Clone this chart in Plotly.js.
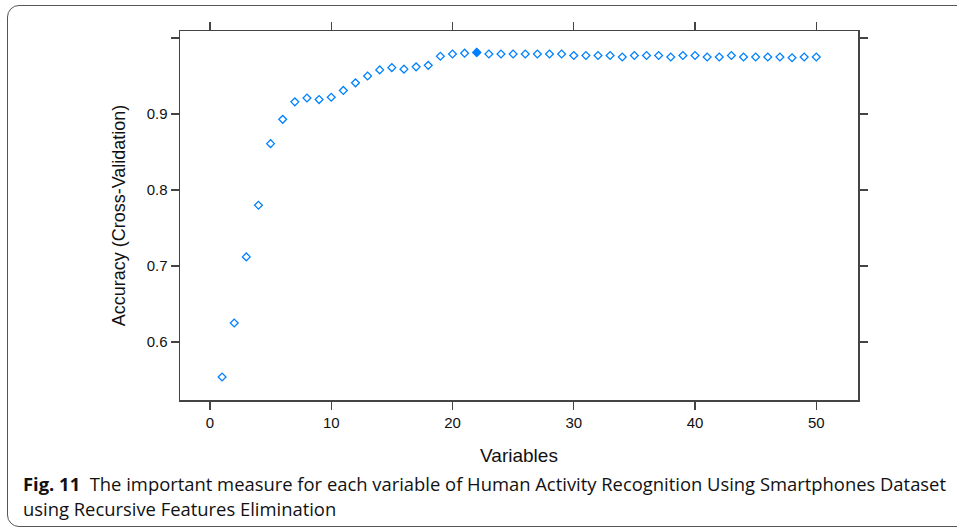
<!DOCTYPE html>
<html>
<head>
<meta charset="utf-8">
<script src="https://cdn.plot.ly/plotly-3.0.1.min.js"></script>
<style>
  html, body { margin: 0; padding: 0; background: #fff; }
  #wrap { position: relative; width: 957px; height: 531px; overflow: hidden; }
  #chart { position: absolute; left: 0; top: 0; width: 957px; height: 531px; }
  #frame { position: absolute; left: 7px; top: 5px; width: 980px; height: 522px;
           border: 1.3px solid #555; border-radius: 12px; pointer-events: none; box-sizing: border-box; }
</style>
</head>
<body>
<div id="wrap">
  <div id="chart"></div>
  <div id="frame"></div>
</div>
<script>
// Data
const variables = [1,2,3,4,5,6,7,8,9,10,11,12,13,14,15,16,17,18,19,20,21,22,23,24,25,26,27,28,29,30,31,32,33,34,35,36,37,38,39,40,41,42,43,44,45,46,47,48,49,50];
const accuracy = [0.554,0.625,0.712,0.780,0.861,0.893,0.916,0.921,0.919,0.922,0.931,0.941,0.950,0.958,0.961,0.959,0.962,0.964,0.976,0.979,0.980,0.981,0.979,0.979,0.979,0.979,0.979,0.979,0.979,0.977,0.977,0.977,0.977,0.975,0.977,0.977,0.977,0.975,0.977,0.977,0.975,0.975,0.977,0.975,0.975,0.975,0.975,0.974,0.975,0.975];
const bestVariables = [22];
const bestAccuracy = [0.981];
const yTickVals = [0.6,0.7,0.8,0.9,1.0];
const yTickText = ['0.6','0.7','0.8','0.9',''];
const xTickVals = [0,10,20,30,40,50];
const xTitle = 'Variables';
const yTitle = 'Accuracy (Cross-Validation)';
const captionBold = 'Fig. 11';
const captionLine1 = 'The important measure for each variable of Human Activity Recognition Using Smartphones Dataset';
const captionLine2 = 'using Recursive Features Elimination';

const markerColor = '#0080ff';
const traces = [
  { x: variables, y: accuracy, type: 'scatter', mode: 'markers',
    marker: { symbol: 'diamond-open', size: 6, color: markerColor, line: { width: 1.3, color: markerColor } },
    hoverinfo: 'x+y' },
  { x: bestVariables, y: bestAccuracy, type: 'scatter', mode: 'markers',
    marker: { symbol: 'diamond', size: 6, color: markerColor, line: { width: 1.2, color: markerColor } },
    hoverinfo: 'x+y' }
];

const axisFont = { family: 'Liberation Sans, Arial, sans-serif', size: 15, color: '#111' };
const capFont = { family: 'Open Sans, sans-serif', size: 18.4, color: '#111' };
const layout = {
  width: 957, height: 531,
  margin: { l: 180, r: 99, t: 31, b: 131 },
  paper_bgcolor: '#fff', plot_bgcolor: '#fff',
  showlegend: false,
  xaxis: {
    range: [-2.47, 53.44], tickvals: xTickVals, ticks: 'outside', ticklen: 8, tickwidth: 1.3, tickcolor: '#444',
    showline: true, linecolor: '#444', linewidth: 1.5, mirror: 'ticks', showgrid: false, zeroline: false,
    tickfont: axisFont,
    title: { text: xTitle, font: { family: 'Liberation Sans, Arial, sans-serif', size: 19, color: '#111' }, standoff: 19 }
  },
  yaxis: {
    range: [0.5237, 1.0092], tickvals: yTickVals, ticktext: yTickText, ticks: 'outside', ticklen: 8, tickwidth: 1.3, tickcolor: '#444',
    showline: true, linecolor: '#444', linewidth: 1.5, mirror: 'ticks', showgrid: false, zeroline: false,
    tickfont: axisFont,
    title: { text: yTitle, font: { family: 'Liberation Sans, Arial, sans-serif', size: 18, color: '#111' }, standoff: 16 }
  },
  annotations: [
    { xref: 'paper', yref: 'paper', x: (21 - 180) / 678, y: 1 - (469 - 31) / 369, xanchor: 'left', yanchor: 'top',
      showarrow: false, align: 'left',
      text: '<b>' + captionBold + '</b>  ' + captionLine1, font: capFont },
    { xref: 'paper', yref: 'paper', x: (21 - 180) / 678, y: 1 - (494 - 31) / 369, xanchor: 'left', yanchor: 'top',
      showarrow: false, align: 'left',
      text: captionLine2, font: capFont }
  ]
};

Plotly.newPlot('chart', traces, layout, { staticPlot: true, displayModeBar: false });
</script>
</body>
</html>
